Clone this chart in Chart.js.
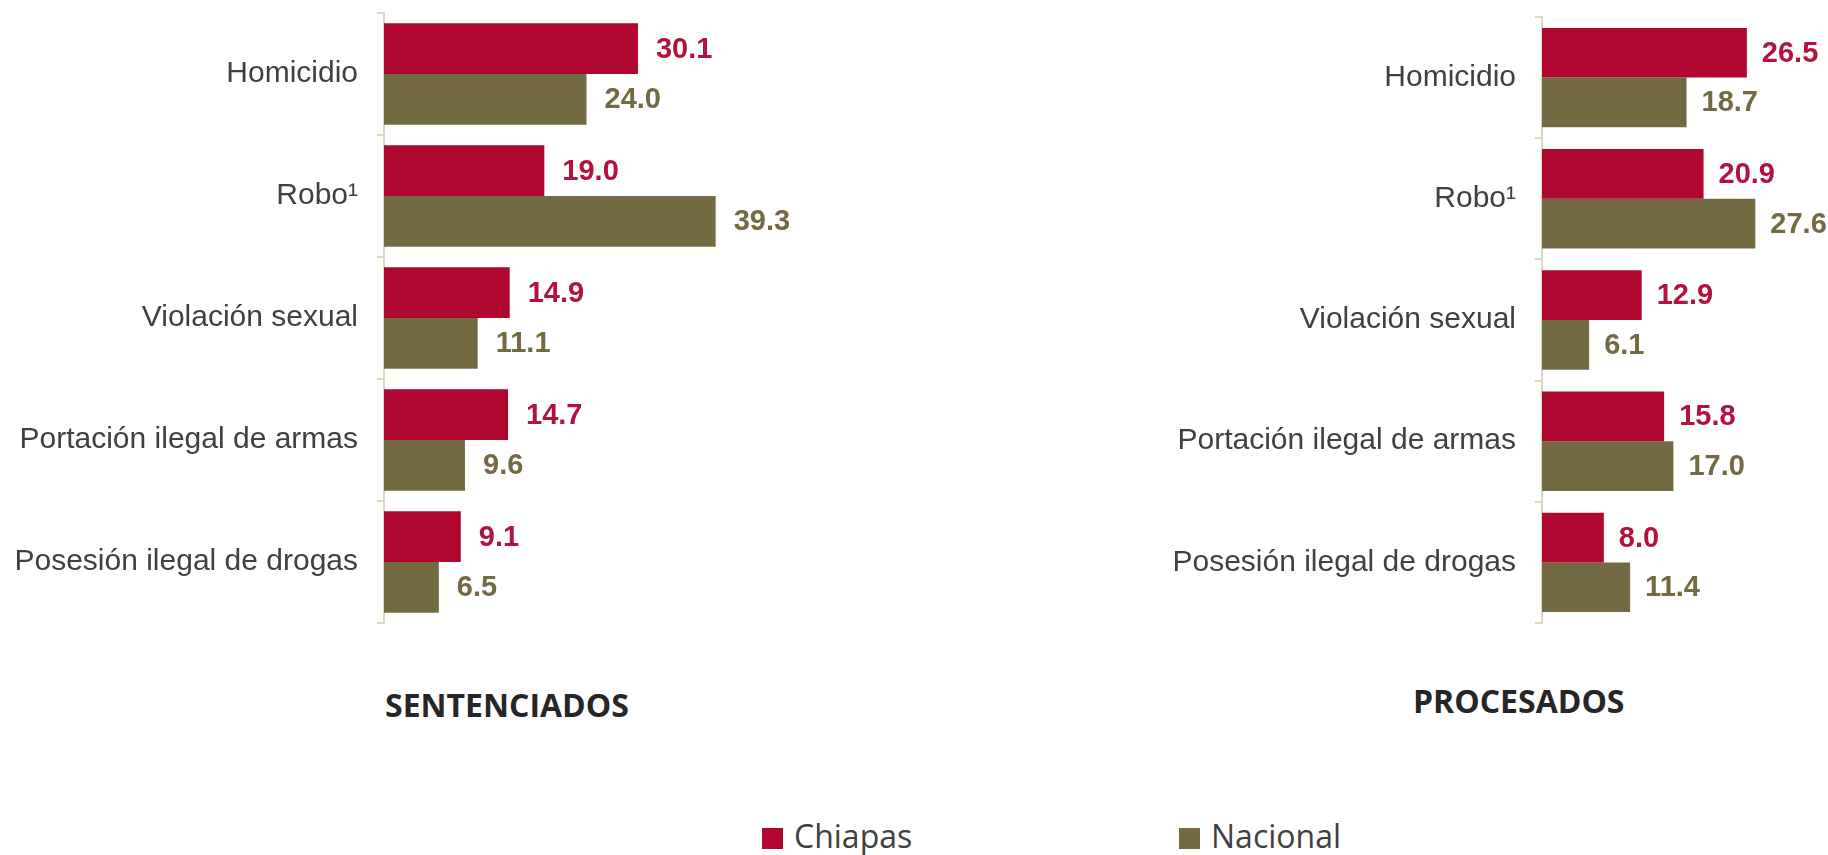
<!DOCTYPE html>
<html>
<head>
<meta charset="utf-8">
<script src="https://cdn.jsdelivr.net/npm/chart.js@4.4.1/dist/chart.umd.min.js"></script>
<style>
  body { margin: 0; background: #fff; }
  .wrap { position: absolute; }
  .title { position: absolute; font-family: "Open Sans", sans-serif; font-weight: 700; font-size: 32px; line-height: 32px; color: #262626; white-space: nowrap; }
  .legend { position: absolute; font-family: "Open Sans", sans-serif; font-size: 32px; line-height: 32px; color: #404040; white-space: nowrap; }
  .legend span { display: inline-block; width: 21px; height: 21px; margin-right: 11px; vertical-align: -1px; }
</style>
</head>
<body>
<div class="wrap" style="left:0;top:0;width:1000px;height:640px"><canvas id="sentChart"></canvas></div>
<div class="wrap" style="left:1000px;top:0;width:828px;height:640px"><canvas id="procChart"></canvas></div>
<div class="title" style="left:385px;top:689px">SENTENCIADOS</div>
<div class="title" style="left:1413px;top:685px">PROCESADOS</div>
<div class="legend" style="left:762px;top:820px"><span style="background:#B0072E"></span>Chiapas</div>
<div class="legend" style="left:1179px;top:820px"><span style="background:#736A42"></span>Nacional</div>
<script>
// delitos y porcentajes
const categories = ['Homicidio', 'Robo¹', 'Violación sexual', 'Portación ilegal de armas', 'Posesión ilegal de drogas'];
const seriesNames = ['Chiapas', 'Nacional'];
const sentChiapas = [30.1, 19.0, 14.9, 14.7, 9.1];
const sentNacional = [24.0, 39.3, 11.1, 9.6, 6.5];
const procChiapas = [26.5, 20.9, 12.9, 15.8, 8.0];
const procNacional = [18.7, 27.6, 6.1, 17.0, 11.4];

const RED = '#B0072E';
const OLIVE = '#736A42';
const AXIS = '#DDD7BF';

// etiquetas de valor al final de cada barra
const valueLabels = {
    id: 'valueLabels',
    afterDatasetsDraw(chart, args, opts) {
        const c = chart.ctx;
        c.save();
        c.font = 'bold 29px "Liberation Sans", Arial, sans-serif';
        c.textAlign = 'left';
        c.textBaseline = 'middle';
        chart.data.datasets.forEach((ds, i) => {
            c.fillStyle = i === 0 ? '#B3123D' : OLIVE;
            chart.getDatasetMeta(i).data.forEach((bar, j) => {
                c.fillText(ds.data[j].toFixed(1), bar.x + opts.offset, bar.y + 1);
            });
        });
        c.restore();
    }
};

function makeChart(id, chiapas, nacional, xMax, axisWidth, padTop, catPct, labelOffset) {
    return new Chart(document.getElementById(id), {
        type: 'bar',
        data: {
            labels: categories,
            datasets: [
                { label: seriesNames[0], data: chiapas, backgroundColor: RED },
                { label: seriesNames[1], data: nacional, backgroundColor: OLIVE }
            ]
        },
        options: {
            indexAxis: 'y',
            responsive: true,
            maintainAspectRatio: false,
            animation: false,
            layout: { padding: { top: padTop, bottom: 17, left: 0, right: 0 } },
            datasets: { bar: { categoryPercentage: catPct, barPercentage: 1 } },
            scales: {
                x: { display: false, min: 0, max: xMax },
                y: {
                    afterFit: (scale) => {
                        scale.width = axisWidth;
                        scale.paddingTop = 0;
                        scale.paddingBottom = 0;
                    },
                    grid: { offset: true, drawOnChartArea: false, color: AXIS, lineWidth: 2, tickLength: 7 },
                    border: { color: AXIS, width: 2 },
                    ticks: {
                        padding: 19,
                        color: '#404040',
                        font: { family: '"Liberation Sans", Arial, sans-serif', size: 30 }
                    }
                }
            },
            plugins: {
                legend: { display: false },
                tooltip: { enabled: false },
                valueLabels: { offset: labelOffset }
            }
        },
        plugins: [valueLabels]
    });
}

makeChart('sentChart', sentChiapas, sentNacional, 73, 384, 13, 0.833, 18);
makeChart('procChart', procChiapas, procNacional, 37, 542, 17, 0.82, 15);
</script>
</body>
</html>
